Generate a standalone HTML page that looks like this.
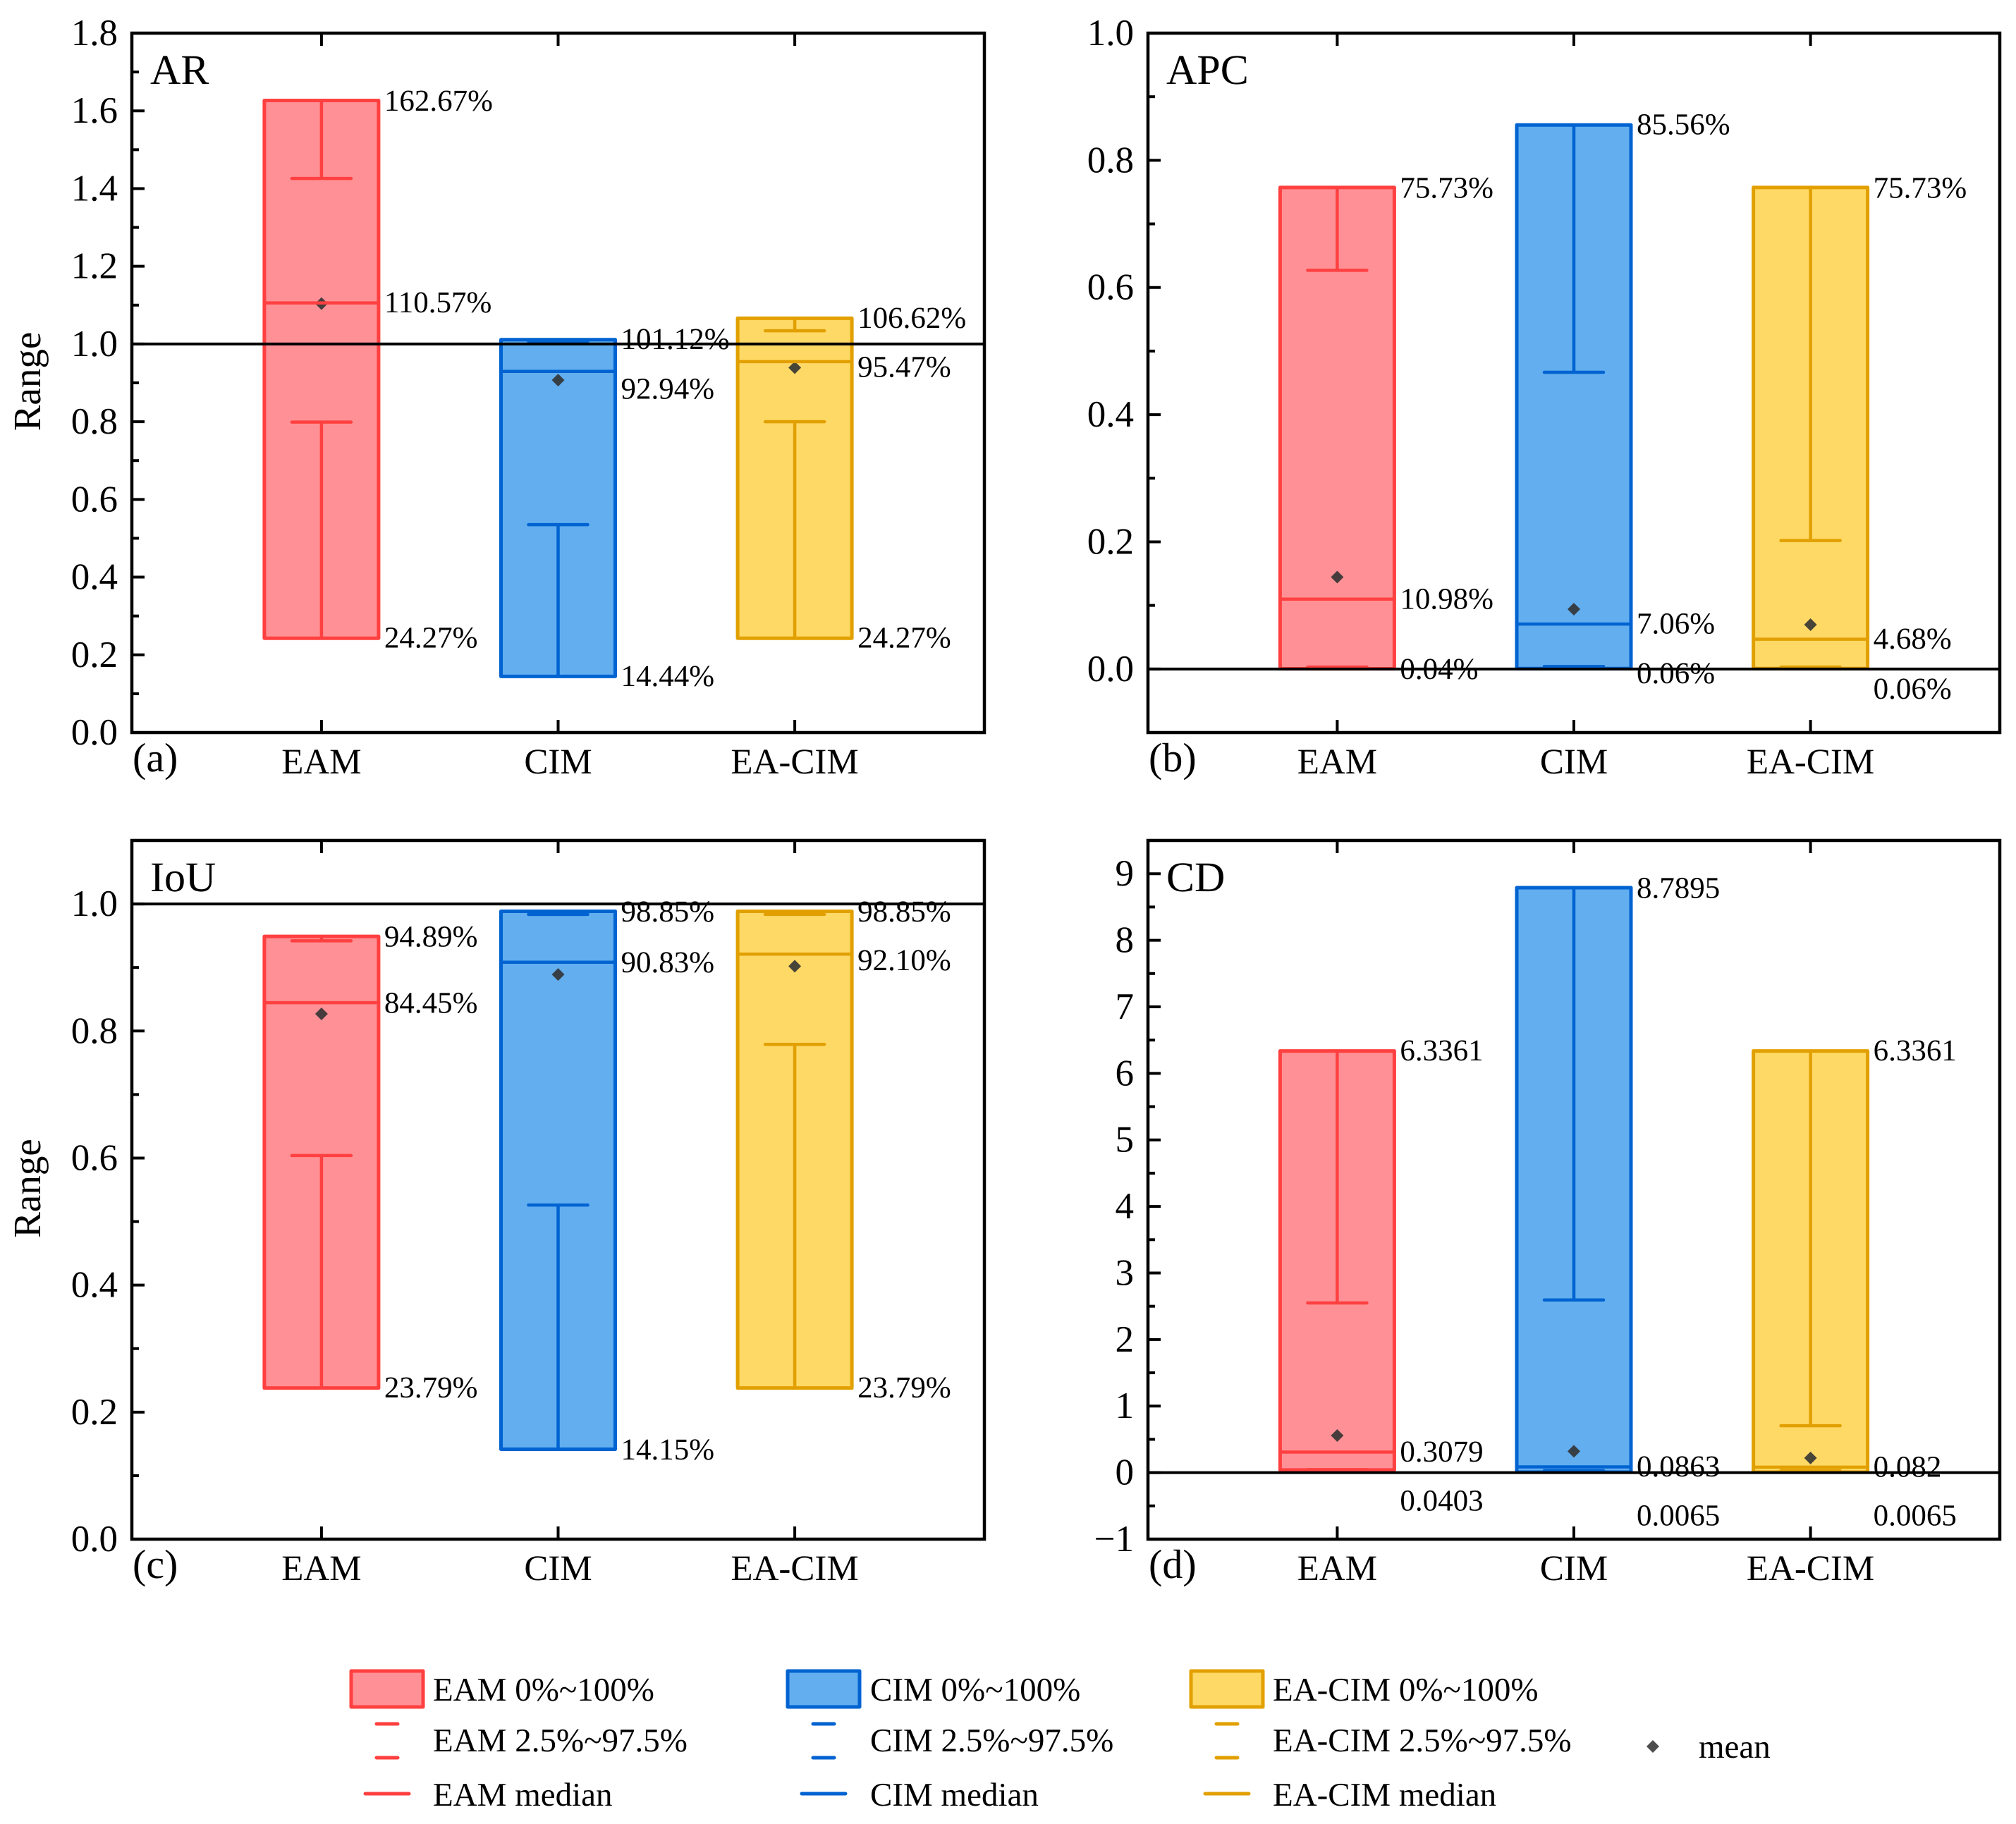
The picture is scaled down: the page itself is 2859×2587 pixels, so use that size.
<!DOCTYPE html>
<html lang="en">
<head>
<meta charset="utf-8">
<title>Range charts for AR, APC, IoU and CD</title>
<style>
  html, body { margin: 0; padding: 0; background: #fff; }
  svg { display: block; }
  text { font-family: "Liberation Serif", "Times New Roman", serif; fill: #000; text-rendering: geometricPrecision; }
</style>
</head>
<body>
<svg id="figure" xmlns="http://www.w3.org/2000/svg" width="2859" height="2587" viewBox="0 0 2859 2587">
  <rect x="0" y="0" width="2859" height="2587" fill="#ffffff"/>
  <g id="panels"></g>
  <g id="legend" font-size="47">
    <rect x="498" y="2370" width="102" height="51" fill="#ff9196" stroke="#ff4040" stroke-width="5" stroke-linejoin="round"/>
    <text x="614" y="2412" font-size="47">EAM 0%~100%</text>
    <line x1="534" x2="564" y1="2445" y2="2445" stroke="#ff4040" stroke-width="5" stroke-linecap="round"/>
    <line x1="534" x2="564" y1="2493" y2="2493" stroke="#ff4040" stroke-width="5" stroke-linecap="round"/>
    <text x="614" y="2484" font-size="47">EAM 2.5%~97.5%</text>
    <line x1="518" x2="580" y1="2544" y2="2544" stroke="#ff4040" stroke-width="5" stroke-linecap="round"/>
    <text x="614" y="2561" font-size="47">EAM median</text>

    <rect x="1117" y="2370" width="102" height="51" fill="#62aeef" stroke="#0063d1" stroke-width="5" stroke-linejoin="round"/>
    <text x="1234" y="2412" font-size="47">CIM 0%~100%</text>
    <line x1="1153" x2="1183" y1="2445" y2="2445" stroke="#0063d1" stroke-width="5" stroke-linecap="round"/>
    <line x1="1153" x2="1183" y1="2493" y2="2493" stroke="#0063d1" stroke-width="5" stroke-linecap="round"/>
    <text x="1234" y="2484" font-size="47">CIM 2.5%~97.5%</text>
    <line x1="1137" x2="1199" y1="2544" y2="2544" stroke="#0063d1" stroke-width="5" stroke-linecap="round"/>
    <text x="1234" y="2561" font-size="47">CIM median</text>

    <rect x="1689" y="2370" width="102" height="51" fill="#ffd966" stroke="#e2a000" stroke-width="5" stroke-linejoin="round"/>
    <text x="1805" y="2412" font-size="47">EA-CIM 0%~100%</text>
    <line x1="1725" x2="1755" y1="2445" y2="2445" stroke="#e2a000" stroke-width="5" stroke-linecap="round"/>
    <line x1="1725" x2="1755" y1="2493" y2="2493" stroke="#e2a000" stroke-width="5" stroke-linecap="round"/>
    <text x="1805" y="2484" font-size="47">EA-CIM 2.5%~97.5%</text>
    <line x1="1709" x2="1771" y1="2544" y2="2544" stroke="#e2a000" stroke-width="5" stroke-linecap="round"/>
    <text x="1805" y="2561" font-size="47">EA-CIM median</text>

    <polygon points="2344,2468 2353,2477 2344,2486 2335,2477" fill="#4d4d4d"/>
    <text x="2409" y="2493" font-size="47">mean</text>
  </g>
</svg>
<script>
// ---- Chart data ----
const categories = ['EAM', 'CIM', 'EA-CIM'];

const arMax = [1.6267, 1.0112, 1.0662];
const arMin = [0.2427, 0.1444, 0.2427];
const arMedian = [1.1057, 0.9294, 0.9547];
const arUpperCap = [1.426, 1.007, 1.034];
const arLowerCap = [0.799, 0.535, 0.80];
const arMean = [1.104, 0.907, 0.939];
const arMaxLabels = ['162.67%', '101.12%', '106.62%'];
const arMedianLabels = ['110.57%', '92.94%', '95.47%'];
const arMinLabels = ['24.27%', '14.44%', '24.27%'];
const arTicks = ['0.0', '0.2', '0.4', '0.6', '0.8', '1.0', '1.2', '1.4', '1.6', '1.8'];
const arMinorTicks = [0.1, 0.3, 0.5, 0.7, 0.9, 1.1, 1.3, 1.5, 1.7];
const arDomain = [0, 1.8];

const apcMax = [0.7573, 0.8556, 0.7573];
const apcMin = [0.0004, 0.0006, 0.0006];
const apcMedian = [0.1098, 0.0706, 0.0468];
const apcUpperCap = [0.627, 0.4666, 0.202];
const apcLowerCap = [0.003, 0.004, 0.003];
const apcMean = [0.1445, 0.094, 0.0697];
const apcMaxLabels = ['75.73%', '85.56%', '75.73%'];
const apcMedianLabels = ['10.98%', '7.06%', '4.68%'];
const apcMinLabels = ['0.04%', '0.06%', '0.06%'];
const apcTicks = ['0.0', '0.2', '0.4', '0.6', '0.8', '1.0'];
const apcMinorTicks = [0.1, 0.3, 0.5, 0.7, 0.9];
const apcDomain = [-0.1, 1.0];

const iouMax = [0.9489, 0.9885, 0.9885];
const iouMin = [0.2379, 0.1415, 0.2379];
const iouMedian = [0.8445, 0.9083, 0.9210];
const iouUpperCap = [0.942, 0.9836, 0.9836];
const iouLowerCap = [0.604, 0.526, 0.779];
const iouMean = [0.827, 0.889, 0.902];
const iouMaxLabels = ['94.89%', '98.85%', '98.85%'];
const iouMedianLabels = ['84.45%', '90.83%', '92.10%'];
const iouMinLabels = ['23.79%', '14.15%', '23.79%'];
const iouTicks = ['0.0', '0.2', '0.4', '0.6', '0.8', '1.0'];
const iouMinorTicks = [0.1, 0.3, 0.5, 0.7, 0.9];
const iouDomain = [0, 1.1];

const cdMax = [6.3361, 8.7895, 6.3361];
const cdMin = [0.0403, 0.0065, 0.0065];
const cdMedian = [0.3079, 0.0863, 0.082];
const cdUpperCap = [2.55, 2.594, 0.705];
const cdLowerCap = [0.045, 0.03, 0.03];
const cdMean = [0.557, 0.32, 0.22];
const cdMaxLabels = ['6.3361', '8.7895', '6.3361'];
const cdMedianLabels = ['0.3079', '0.0863', '0.082'];
const cdMinLabels = ['0.0403', '0.0065', '0.0065'];
const cdTicks = ['\u22121', '0', '1', '2', '3', '4', '5', '6', '7', '8', '9'];
const cdMinorTicks = [-0.5, 0.5, 1.5, 2.5, 3.5, 4.5, 5.5, 6.5, 7.5, 8.5];
const cdDomain = [-1, 9.5];

// ---- Panel configuration ----
const palette = [
  { fill: '#ff9196', stroke: '#ff4040' },
  { fill: '#62aeef', stroke: '#0063d1' },
  { fill: '#ffd966', stroke: '#e2a000' }
];

const panels = [
  { id: 'ar', title: 'AR', tag: '(a)', refValue: 1, yTitle: 'Range',
    left: 187, right: 1396, top: 47, bottom: 1039,
    domain: arDomain, ticks: arTicks, minor: arMinorTicks,
    max: arMax, min: arMin, median: arMedian, upper: arUpperCap, lower: arLowerCap, mean: arMean,
    maxLabels: arMaxLabels, medianLabels: arMedianLabels, minLabels: arMinLabels,
    nudgeMax: [1, 0, 0], nudgeMedian: [0, 25, 8], nudgeMin: [0, 0, 0] },
  { id: 'apc', title: 'APC', tag: '(b)', refValue: 0, yTitle: '',
    left: 1628, right: 2836, top: 47, bottom: 1039,
    domain: apcDomain, ticks: apcTicks, minor: apcMinorTicks,
    max: apcMax, min: apcMin, median: apcMedian, upper: apcUpperCap, lower: apcLowerCap, mean: apcMean,
    maxLabels: apcMaxLabels, medianLabels: apcMedianLabels, minLabels: apcMinLabels,
    nudgeMax: [1, 0, 1], nudgeMedian: [0, 0, 0], nudgeMin: [1, 7, 29] },
  { id: 'iou', title: 'IoU', tag: '(c)', refValue: 1, yTitle: 'Range',
    left: 187, right: 1396, top: 1192, bottom: 2183,
    domain: iouDomain, ticks: iouTicks, minor: iouMinorTicks,
    max: iouMax, min: iouMin, median: iouMedian, upper: iouUpperCap, lower: iouLowerCap, mean: iouMean,
    maxLabels: iouMaxLabels, medianLabels: iouMedianLabels, minLabels: iouMinLabels,
    nudgeMax: [1, 1, 1], nudgeMedian: [1, 1, 9], nudgeMin: [0, 1, 0] },
  { id: 'cd', title: 'CD', tag: '(d)', refValue: 0, yTitle: '',
    left: 1628, right: 2836, top: 1192, bottom: 2183,
    domain: cdDomain, ticks: cdTicks, minor: cdMinorTicks,
    max: cdMax, min: cdMin, median: cdMedian, upper: cdUpperCap, lower: cdLowerCap, mean: cdMean,
    maxLabels: cdMaxLabels, medianLabels: cdMedianLabels, minLabels: cdMinLabels,
    nudgeMax: [0, 1, 0], nudgeMedian: [0, 0, 0], nudgeMin: [44, 62, 62] }
];

const SVG_NS = 'http://www.w3.org/2000/svg';
const root = document.getElementById('panels');

function shape(parent, tag, attrs) {
  const node = document.createElementNS(SVG_NS, tag);
  Object.keys(attrs).forEach(function (k) { node.setAttribute(k, attrs[k]); });
  parent.appendChild(node);
  return node;
}

function drawPanel(p) {
  const yScale = function (v) {
    return p.bottom - (v - p.domain[0]) / (p.domain[1] - p.domain[0]) * (p.bottom - p.top);
  };
  const mid = (p.left + p.right) / 2;
  const xScale = function (i) { return mid + (i - 1) * 335.6; };

  const g = shape(root, 'g', {});
  
  

  // series
  categories.forEach(function (cat, i) {
    const cx = xScale(i);
    const col = palette[i];
    const slug = p.id + '-' + cat.toLowerCase();
    const halfBox = 81;
    const halfCap = 42;

    const s = shape(g, 'g', {});
    
    

    const box = shape(s, 'rect', {
      x: cx - halfBox, y: yScale(p.max[i]), width: halfBox * 2,
      height: yScale(p.min[i]) - yScale(p.max[i]),
      fill: col.fill, stroke: col.stroke, 'stroke-width': 5, 'stroke-linejoin': 'round'
    });
    
    

    const my = yScale(p.mean[i]);
    const mean = shape(s, 'polygon', {
      points: cx + ',' + (my - 9) + ' ' + (cx + 9) + ',' + my + ' ' + cx + ',' + (my + 9) + ' ' + (cx - 9) + ',' + my,
      fill: '#333333', 'fill-opacity': 0.9
    });
    
    

    const stemUp = shape(s, 'line', {
      x1: cx, x2: cx, y1: yScale(p.max[i]), y2: yScale(p.upper[i]), stroke: col.stroke, 'stroke-width': 4.5
    });
    
    

    const stemDown = shape(s, 'line', {
      x1: cx, x2: cx, y1: yScale(p.min[i]), y2: yScale(p.lower[i]), stroke: col.stroke, 'stroke-width': 4.5
    });
    
    

    const capUp = shape(s, 'line', {
      x1: cx - halfCap, x2: cx + halfCap, y1: yScale(p.upper[i]), y2: yScale(p.upper[i]),
      stroke: col.stroke, 'stroke-width': 4.5, 'stroke-linecap': 'round'
    });
    
    

    const capDown = shape(s, 'line', {
      x1: cx - halfCap, x2: cx + halfCap, y1: yScale(p.lower[i]), y2: yScale(p.lower[i]),
      stroke: col.stroke, 'stroke-width': 4.5, 'stroke-linecap': 'round'
    });
    
    

    const med = shape(s, 'line', {
      x1: cx - halfBox, x2: cx + halfBox, y1: yScale(p.median[i]), y2: yScale(p.median[i]),
      stroke: col.stroke, 'stroke-width': 4.5
    });
    
    
  });

  // reference line
  const refY = yScale(p.refValue);
  const ref = shape(g, 'line', { x1: p.left, x2: p.right, y1: refY, y2: refY, stroke: '#000', 'stroke-width': 4 });
  
  

  // value labels
  categories.forEach(function (cat, i) {
    const cx = xScale(i);
    const slug = p.id + '-' + cat.toLowerCase();
    const groups = [
      ['max', p.maxLabels[i], p.max[i], p.nudgeMax[i]],
      ['median', p.medianLabels[i], p.median[i], p.nudgeMedian[i]],
      ['min', p.minLabels[i], p.min[i], p.nudgeMin[i]]
    ];
    groups.forEach(function (row) {
      const t = shape(g, 'text', { x: cx + 89, y: yScale(row[2]) + 13.5 + row[3], 'font-size': 43 });
      t.textContent = row[1];
      
      
    });
  });

  // minor y ticks
  p.minor.forEach(function (v) {
    const tick = shape(g, 'line', { x1: p.left, x2: p.left + 10, y1: yScale(v), y2: yScale(v), stroke: '#000', 'stroke-width': 4 });
    
    
  });

  // major y ticks + labels
  p.ticks.forEach(function (label) {
    const v = parseFloat(label.replace('\u2212', '-'));
    const y = yScale(v);
    const tick = shape(g, 'line', { x1: p.left, x2: p.left + 18, y1: y, y2: y, stroke: '#000', 'stroke-width': 4 });
    
    
    const t = shape(g, 'text', { x: p.left - 20, y: y + 17, 'font-size': 53, 'text-anchor': 'end' });
    t.textContent = label;
    
    
  });

  // x ticks + labels
  categories.forEach(function (cat, i) {
    const cx = xScale(i);
    const tb = shape(g, 'line', { x1: cx, x2: cx, y1: p.bottom, y2: p.bottom - 18, stroke: '#000', 'stroke-width': 4 });
    
    
    const tt = shape(g, 'line', { x1: cx, x2: cx, y1: p.top, y2: p.top + 18, stroke: '#000', 'stroke-width': 4 });
    
    
    const t = shape(g, 'text', { x: cx, y: p.bottom + 58, 'font-size': 51, 'text-anchor': 'middle' });
    t.textContent = cat;
    
    
  });

  // frame
  const frame = shape(g, 'rect', {
    x: p.left, y: p.top, width: p.right - p.left, height: p.bottom - p.top,
    fill: 'none', stroke: '#000', 'stroke-width': 4.5
  });
  
  

  // titles
  const title = shape(g, 'text', { x: p.left + 26, y: p.top + 72, 'font-size': 60 });
  title.textContent = p.title;
  
  

  const tag = shape(g, 'text', { x: p.left + 1, y: p.bottom + 55, 'font-size': 58 });
  tag.textContent = p.tag;
  
  

  if (p.yTitle) {
    const cy = (p.top + p.bottom) / 2 - 2;
    const yt = shape(g, 'text', {
      x: 57, y: cy, 'font-size': 55, 'text-anchor': 'middle',
      transform: 'rotate(-90 57 ' + cy + ')'
    });
    yt.textContent = p.yTitle;
    
    
  }
}

panels.forEach(drawPanel);
</script>
</body>
</html>
